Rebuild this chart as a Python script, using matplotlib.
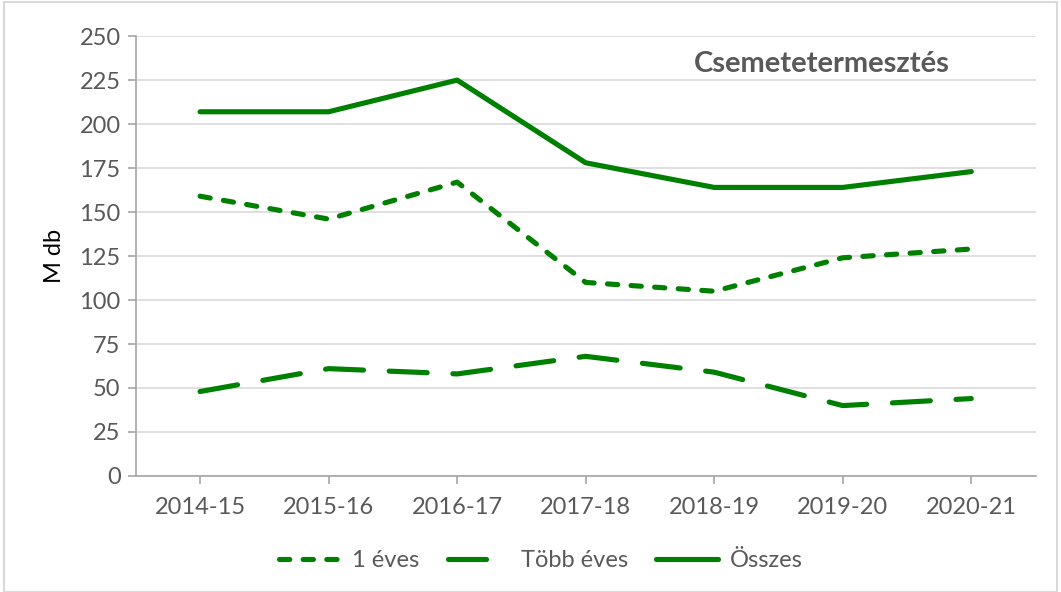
import matplotlib.pyplot as plt
from matplotlib.patches import Rectangle

years = ["2014-15", "2015-16", "2016-17", "2017-18", "2018-19", "2019-20", "2020-21"]
egy_eves = [159, 146, 167, 110, 105, 124, 129]
tobb_eves = [48, 61, 58, 68, 59, 40, 44]
osszes = [207, 207, 225, 178, 164, 164, 173]

green = "#008000"
gray = "#595959"

plt.rcParams['font.family'] = ['Lato', 'DejaVu Sans']

fig = plt.figure(figsize=(10.61, 5.92), dpi=100)
ax = fig.add_axes([0.128, 0.196, 0.848, 0.743])

x = range(len(years))
ax.plot(x, egy_eves, color=green, lw=3.7, dashes=(2.0, 2.6), dash_capstyle="round",
        label="1 éves")
ax.plot(x, tobb_eves, color=green, lw=3.7, dashes=(7.4, 5.0), dash_capstyle="round",
        label="Több éves")
ax.plot(x, osszes, color=green, lw=3.7, solid_capstyle="round", label="Összes")

ax.set_xlim(-0.5, len(years) - 0.5)
ax.set_ylim(0, 250)
ax.set_yticks(range(0, 251, 25))
ax.set_xticks(list(x))
ax.set_xticklabels(years)
ax.grid(axis="y", color="#d9d9d9", lw=1.2)
ax.set_axisbelow(True)
for s in ["top", "right"]:
    ax.spines[s].set_visible(False)
for s in ["left", "bottom"]:
    ax.spines[s].set_color("#a6a6a6")
    ax.spines[s].set_linewidth(1.2)
ax.tick_params(colors="#a6a6a6", labelcolor=gray, labelsize=17, length=6, width=1.2)
ax.tick_params(axis="x", pad=9)
ax.tick_params(axis="y", pad=5)
ax.set_ylabel("M db", fontsize=17, color="black", labelpad=10)

ax.text(0.62, 0.937, "Csemetetermesztés", transform=ax.transAxes, fontsize=21,
        fontweight="bold", color=gray, ha="left", va="center")

leg = ax.legend(loc="upper center", bbox_to_anchor=(0.45, -0.12), ncol=3, frameon=False,
                fontsize=17, handlelength=2.6, columnspacing=1.2, handletextpad=0.5)
for t in leg.get_texts():
    t.set_color(gray)

fig.patches.append(Rectangle((0.004, 0.0), 0.992, 0.997, transform=fig.transFigure,
                             fill=False, edgecolor="#d9d9d9", lw=1.5))

fig.savefig("out.png", dpi=100)
